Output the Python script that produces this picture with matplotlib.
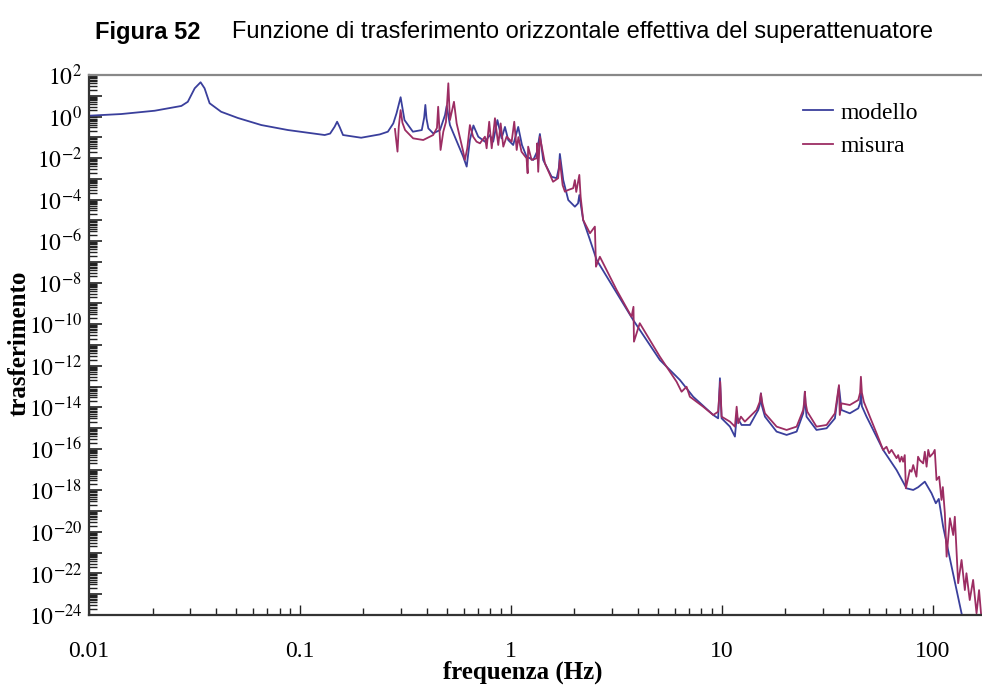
import numpy as np
import matplotlib
matplotlib.use('Agg')
import matplotlib.pyplot as plt
from matplotlib.ticker import FixedLocator, LogLocator, FuncFormatter, NullFormatter

# dati (frequenza in Hz, log10 del trasferimento)
modello_f = [0.01, 0.0142, 0.0205, 0.0274, 0.0294, 0.0317, 0.0338, 0.0353, 0.0373, 0.0423,
             0.0508, 0.0656, 0.0877, 0.109, 0.131, 0.139, 0.146, 0.150, 0.154, 0.160,
             0.195, 0.239, 0.261, 0.277, 0.287, 0.300, 0.309, 0.313, 0.343, 0.378,
             0.388, 0.393, 0.398, 0.406, 0.428, 0.461, 0.487, 0.496, 0.514, 0.563,
             0.594, 0.617, 0.639, 0.664, 0.700, 0.753, 0.795, 0.824, 0.863, 0.903,
             0.937, 0.971, 1.025, 1.083, 1.128, 1.186, 1.276, 1.328, 1.372, 1.422,
             1.559, 1.647, 1.687, 1.706, 1.770, 1.870, 2.01, 2.08, 2.11, 2.20,
             2.37, 2.55, 3.80, 5.08, 6.32, 7.31, 9.10, 9.60, 9.79, 9.97,
             10.92, 11.53, 11.75, 12.40, 13.58, 14.87, 15.15, 15.31, 15.5, 16.00,
             18.17, 20.27, 22.61, 24.29, 24.55, 24.74, 24.95, 25.19, 28.09, 31.35,
             34.34, 35.89, 36.9, 40.4, 44.3, 45.2, 45.6, 46.1, 48.5, 50.3,
             58.1, 67.3, 75.0, 80.7, 85.1, 91.6, 98.6, 103.3, 106.7, 111.9,
             122.7, 136.8, 146.6]
modello_log = [0.04, 0.12, 0.28, 0.51, 0.71, 1.36, 1.65, 1.36, 0.64, 0.23,
               -0.07, -0.41, -0.65, -0.78, -0.89, -0.82, -0.49, -0.25, -0.49, -0.89,
               -1.02, -0.86, -0.73, -0.33, 0.16, 0.93, 0.16, -0.17, -0.73, -0.65,
               -0.05, 0.56, -0.10, -0.57, -0.81, -0.65, 0.07, 0.51, -0.41, -1.37,
               -1.93, -2.41, -1.13, -0.43, -0.97, -1.21, -0.89, -1.21, -0.17, -1.05,
               -0.50, -1.13, -1.37, -0.50, -1.37, -1.93, -2.09, -1.71, -0.84, -2.09,
               -2.90, -2.97, -2.48, -1.80, -3.06, -4.02, -4.34, -4.18, -3.78, -4.98,
               -5.94, -6.91, -9.80, -11.72, -12.68, -13.49, -14.37, -14.53, -12.60, -14.53,
               -14.93, -15.41, -14.45, -14.85, -14.85, -14.13, -13.85, -13.33, -13.95, -14.45,
               -15.17, -15.33, -15.17, -14.29, -13.90, -13.25, -13.95, -14.45, -15.09, -15.01,
               -14.53, -13.01, -14.13, -14.29, -14.05, -13.80, -13.33, -13.95, -14.45, -14.77,
               -16.05, -17.02, -17.90, -17.98, -17.85, -17.58, -18.14, -18.62, -18.41, -19.75,
               -21.67, -23.92, -25.2]

misura_f = [0.282, 0.290, 0.294, 0.300, 0.306, 0.315, 0.344, 0.384, 0.428, 0.446,
            0.452, 0.464, 0.478, 0.492, 0.505, 0.514, 0.537, 0.553, 0.594, 0.605,
            0.621, 0.639, 0.662, 0.687, 0.713, 0.753, 0.767, 0.789, 0.811, 0.840,
            0.871, 0.894, 0.920, 0.954, 1.008, 1.037, 1.065, 1.085, 1.122, 1.186,
            1.200, 1.207, 1.253, 1.324, 1.333, 1.347, 1.372, 1.449, 1.584, 1.674,
            1.706, 1.758, 1.803, 1.864, 1.973, 2.01, 2.04, 2.11, 2.14, 2.20,
            2.37, 2.50, 2.53, 2.64, 3.17, 3.73, 3.81, 3.83, 4.08, 5.08,
            6.10, 6.44, 6.80, 7.05, 8.15, 9.10, 9.60, 9.82, 9.97, 10.92,
            11.53, 11.75, 11.94, 12.31, 12.85, 14.60, 15.10, 15.31, 15.55, 16.00,
            18.17, 20.27, 22.61, 24.29, 24.55, 24.74, 24.95, 25.4, 28.09, 31.35,
            34.34, 35.89, 36.2, 36.9, 40.4, 44.3, 45.2, 45.6, 46.1, 47.1,
            54.1, 58.1, 60.3, 62.1, 63.7, 67.3, 68.5, 69.8, 71.1, 72.3,
            73.6, 74.5, 77.8, 79.3, 80.7, 83.6, 85.1, 86.8, 90.0, 91.6,
            93.4, 95.1, 96.8, 100.3, 102.1, 104.1, 107.1, 109.9, 111.5, 114.0,
            116.2, 120.5, 124.9, 127.1, 131.8, 136.8, 141.8, 144.3, 149.6, 155.2,
            161.1, 165.6, 170.1]
misura_log = [-0.60, -1.69, -0.50, 0.31, -0.30, -0.65, -1.05, -1.13, -0.89, -0.55,
              0.47, -1.61, -0.73, -0.26, 1.60, -0.17, 0.71, -0.33, -1.69, -2.09,
              -1.53, -0.41, -0.97, -1.21, -1.29, -0.97, -1.53, -0.25, -1.53, -0.08,
              -1.37, -0.33, -1.45, -0.97, -1.21, -0.25, -1.61, -0.99, -1.69, -2.01,
              -2.73, -1.45, -2.09, -2.01, -1.29, -2.66, -0.97, -2.25, -3.14, -2.97,
              -2.09, -3.30, -3.62, -3.54, -3.45, -3.06, -3.63, -2.81, -3.86, -4.98,
              -5.62, -5.30, -7.23, -6.75, -8.35, -9.64, -9.16, -10.84, -9.95, -11.56,
              -12.77, -13.25, -13.01, -13.49, -13.97, -14.37, -14.21, -12.77, -14.45, -14.69,
              -14.93, -13.97, -14.77, -14.45, -14.69, -14.13, -13.75, -13.33, -13.80, -14.29,
              -14.93, -15.09, -14.93, -14.13, -13.75, -13.25, -13.80, -14.21, -14.93, -14.85,
              -14.29, -12.93, -14.37, -13.81, -13.89, -13.65, -13.30, -12.53, -13.30, -13.74,
              -15.25, -16.05, -15.90, -16.21, -16.05, -16.45, -16.30, -16.62, -16.38, -16.62,
              -16.30, -17.90, -17.02, -17.10, -16.78, -17.34, -16.38, -16.55, -16.70, -16.14,
              -16.86, -16.05, -16.38, -16.21, -16.05, -17.50, -17.34, -18.46, -17.84, -19.10,
              -21.19, -19.34, -20.15, -19.27, -22.47, -21.35, -22.80, -21.99, -23.28, -22.31,
              -23.92, -22.80, -24.2]

serie = ['modello', 'misura']
colori = ['#3a3f9c', '#9c2d63']

plt.rcParams['font.family'] = ['Liberation Serif', 'DejaVu Serif']
plt.rcParams['mathtext.fontset'] = 'stix'

fig = plt.figure(figsize=(9.82, 6.86), dpi=100)
ax = fig.add_axes([89/982, 71/686, 1 - 89/982, 540/686])

ax.plot(modello_f, 10**np.array(modello_log), color=colori[0], lw=1.3, label=serie[0])
ax.plot(misura_f, 10**np.array(misura_log), color=colori[1], lw=1.3, label=serie[1])

ax.set_xscale('log')
ax.set_yscale('log')
ax.set_xlim(0.01, 171)
ax.set_ylim(1e-24, 1e2)

# tick
ax.yaxis.set_major_locator(FixedLocator([10.0**k for k in range(-24, 3)]))
ax.yaxis.set_major_formatter(FuncFormatter(
    lambda v, p: r'$10^{%d}$' % round(np.log10(v)) if round(np.log10(v)) % 2 == 0 else ''))
ax.yaxis.set_minor_locator(LogLocator(base=10, subs=np.arange(2, 10), numticks=100))
ax.yaxis.set_minor_formatter(NullFormatter())
ax.xaxis.set_major_locator(FixedLocator([0.01, 0.1, 1, 10, 100]))
ax.xaxis.set_major_formatter(FuncFormatter(lambda v, p: '%g' % v))
ax.xaxis.set_minor_locator(LogLocator(base=10, subs=np.arange(2, 10), numticks=100))
ax.xaxis.set_minor_formatter(NullFormatter())

ax.tick_params(axis='both', which='both', direction='in', colors='#222222', labelcolor='black')
ax.tick_params(axis='y', which='major', length=9, width=1.2, labelsize=17, pad=5)
ax.tick_params(axis='y', which='minor', length=6, width=1.0)
ax.tick_params(axis='x', which='major', length=7, width=1.0, labelsize=17, pad=19)
ax.tick_params(axis='x', which='minor', length=5, width=1.0)

ax.spines['right'].set_visible(False)
ax.spines['top'].set_color('#888888')
ax.spines['top'].set_linewidth(1.6)
ax.spines['left'].set_color('#333333')
ax.spines['left'].set_linewidth(1.6)
ax.spines['bottom'].set_color('#333333')
ax.spines['bottom'].set_linewidth(1.6)

ax.set_xlabel('frequenza (Hz)', fontsize=18, fontweight='bold')
ax.xaxis.set_label_coords((523 - 89) / 893, -46 / 540)
ax.set_ylabel('trasferimento', fontsize=18, fontweight='bold')
ax.yaxis.set_label_coords(-58 / 893, (615 - 343) / 540)

ax.legend(loc='upper left', bbox_to_anchor=((803 - 89) / 893, (615 - 102) / 540),
          frameon=False, fontsize=17, handlelength=1.25, handletextpad=0.35,
          labelspacing=0.5, borderpad=0, borderaxespad=0)

titolo_font = ['Liberation Sans Narrow', 'Liberation Sans', 'DejaVu Sans']
fig.text(95/982, 1 - 32/686, 'Figura 52', ha='left', va='center', fontsize=17,
         fontweight='bold', family=titolo_font)
fig.text(232/982, 1 - 32/686, 'Funzione di trasferimento orizzontale effettiva del superattenuatore',
         ha='left', va='center', fontsize=17, family=titolo_font)

fig.savefig('out.png', dpi=100)
